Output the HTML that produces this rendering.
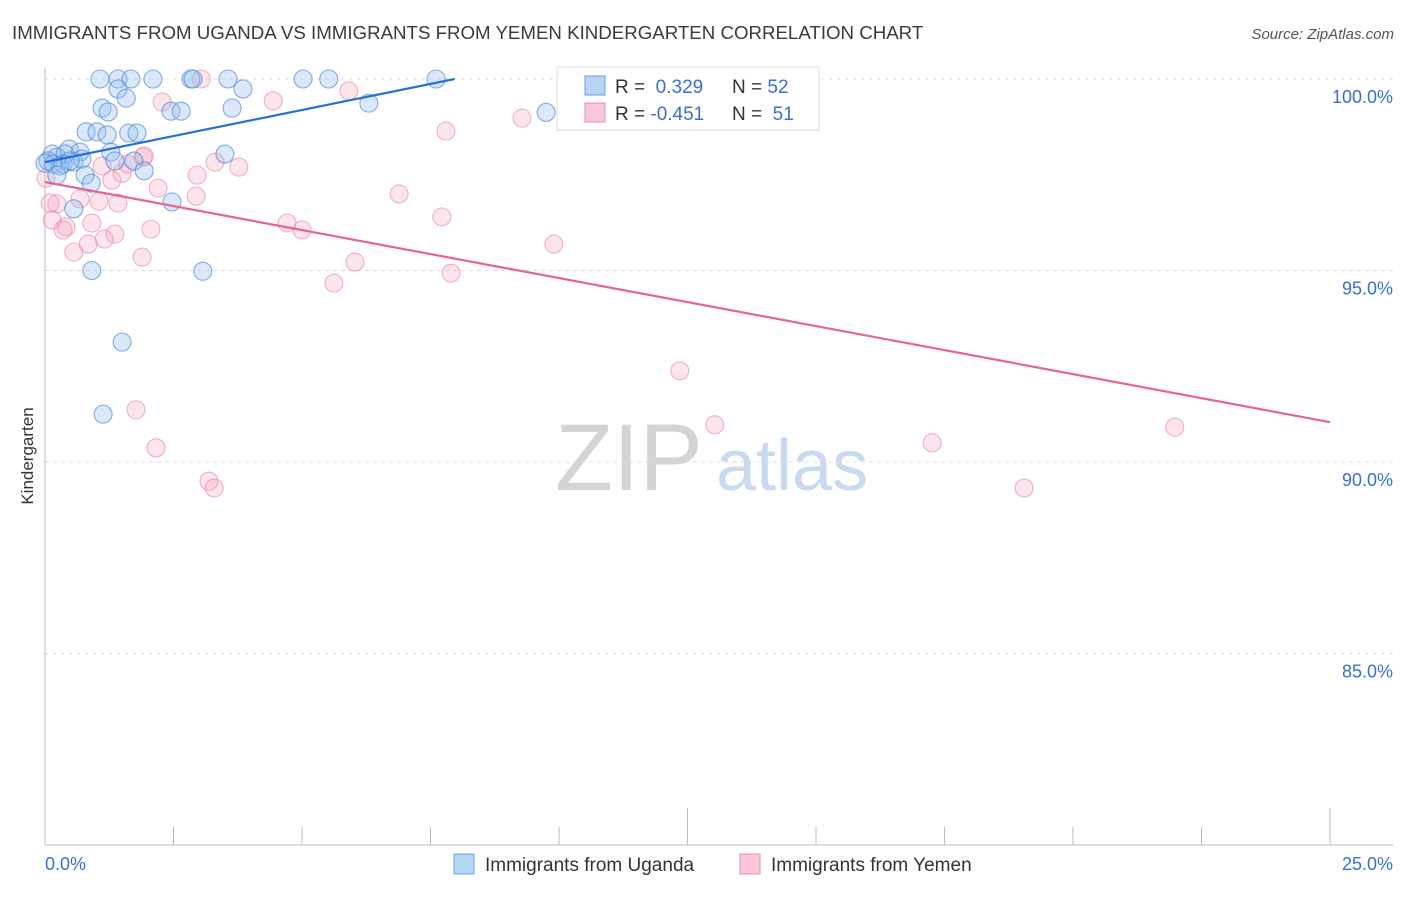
<!DOCTYPE html>
<html><head><meta charset="utf-8"><style>
body{margin:0;background:#fff;font-family:"Liberation Sans",sans-serif;}
svg text{font-family:"Liberation Sans",sans-serif;}
</style></head><body>
<svg id="chart" width="1406" height="892" viewBox="0 0 1406 892" xmlns="http://www.w3.org/2000/svg">
<text x="12" y="39" font-size="18.7" fill="#3a3a3a">IMMIGRANTS FROM UGANDA VS IMMIGRANTS FROM YEMEN KINDERGARTEN CORRELATION CHART</text>
<text x="1394" y="39" font-size="15" fill="#555" font-style="italic" text-anchor="end">Source: ZipAtlas.com</text>
<g>
<text x="555" y="490" font-size="95" fill="#d4d4d4" font-family="Liberation Serif,serif">ZIP</text>
<text x="716" y="490" font-size="72" fill="#c9daf0">atlas</text>
</g>
<g id="grid"></g>
<g id="axes"></g>
<g id="points"></g>
<g id="trends"></g>
<text transform="translate(33,456) rotate(-90)" font-size="17" fill="#333" text-anchor="middle">Kindergarten</text>
<g>
<rect x="557" y="67" width="262" height="63" fill="#fff" stroke="#ddd"/>
<rect x="585" y="76" width="20" height="19" fill="#b8d4f5" stroke="#6a9ee0"/>
<rect x="585" y="103" width="20" height="19" fill="#f9c8d6" stroke="#e890aa"/>
<text x="615" y="93" font-size="19" fill="#333">R = <tspan fill="#3a6fd1">&#160;0.329</tspan></text>
<text x="732" y="93" font-size="19" fill="#333">N = <tspan fill="#3a6fd1">52</tspan></text>
<text x="615" y="120" font-size="19" fill="#333">R = <tspan fill="#3a6fd1">-0.451</tspan></text>
<text x="732" y="120" font-size="19" fill="#333">N = <tspan fill="#3a6fd1">&#160;51</tspan></text>
</g>
<g>
<rect x="454" y="854" width="20" height="20" fill="#b8d4f5" stroke="#6a9ee0"/>
<text x="485" y="871" font-size="19" fill="#333">Immigrants from Uganda</text>
<rect x="740" y="854" width="20" height="20" fill="#f9c8d6" stroke="#e890aa"/>
<text x="771" y="871" font-size="19" fill="#333">Immigrants from Yemen</text>
</g>
</svg>
<script>
const xTickLabels = ["0.0%", "25.0%"];
const yTicks = [100, 95, 90, 85];
const yTickLabels = ["100.0%", "95.0%", "90.0%", "85.0%"];
const ugandaX = [1.07,1.42,1.67,2.1,2.84,2.88,3.56,5.02,5.52,7.61,1.42,1.58,3.85,1.11,1.23,2.45,2.65,3.64,6.3,9.75,0.8,1.01,1.21,1.63,1.79,0.47,0.68,1.28,0.14,0.23,0.39,0.35,0.06,0.16,0.29,0.56,0.72,1.36,1.73,3.5,1.93,0.78,0.23,0.9,2.47,0.56,0.91,3.07,1.5,1.13,0.0,0.49];
const ugandaY = [100,100,100,100,100,100,100,100,100,100,99.74,99.5,99.74,99.24,99.14,99.16,99.16,99.24,99.37,99.13,98.62,98.62,98.54,98.59,98.59,98.17,98.09,98.09,98.04,97.96,98.04,97.78,97.86,97.78,97.73,97.83,97.91,97.86,97.86,98.04,97.6,97.49,97.49,97.28,96.79,96.61,95.0,94.98,93.13,91.25,97.8,97.86];
const yemenX = [3.04,2.28,4.44,5.91,9.28,7.8,12.47,1.91,3.31,3.77,2.96,1.3,1.5,2.2,2.94,1.93,1.05,1.42,0.68,0.23,0.14,0.41,0.91,1.36,2.06,1.15,0.84,0.56,1.89,4.71,5.0,6.89,7.72,9.9,6.03,5.62,7.9,12.35,13.03,1.77,2.16,3.19,3.29,17.26,19.05,21.98,0.02,0.1,0.35,1.11,1.61];
const yemenY = [100,99.4,99.43,99.69,98.98,98.64,99.09,97.96,97.83,97.7,97.49,97.36,97.54,97.15,96.94,97.99,96.81,96.76,96.87,96.74,96.32,96.14,96.24,95.95,96.08,95.82,95.69,95.48,95.35,96.24,96.06,97.0,96.4,95.69,95.22,94.67,94.93,92.38,90.97,91.36,90.37,89.5,89.32,90.5,89.32,90.91,97.41,96.76,96.06,97.73,97.78];
const ugandaTrend = [0, 97.83, 7.97, 100];
const yemenTrend = [0, 97.31, 25, 91.04];

const X0=45, X1=1330, Y0=79, Y1=845;
const xs = v => X0 + v/25*(X1-X0);
const ys = v => Y0 + (100-v)/20*(Y1-Y0);
const NS="http://www.w3.org/2000/svg";
function mk(tag, attrs, parent){const e=document.createElementNS(NS,tag);for(const k in attrs)e.setAttribute(k,attrs[k]);document.getElementById(parent).appendChild(e);return e;}

yTicks.forEach((t,i)=>{
  const l=mk('line',{x1:X0,x2:1393,y1:ys(t),y2:ys(t),stroke:'#ddd','stroke-dasharray':'4,4'},'grid');
  
  
  const tx=mk('text',{x:1393,y:ys(t)+24,'font-size':18,fill:'#3a6fd1','text-anchor':'end'},'grid');
  tx.textContent=yTickLabels[i];
  
  
});
const ax=mk('line',{x1:X0,x2:X1+63,y1:Y1,y2:Y1,stroke:'#bbb'},'axes');


const ay=mk('line',{x1:X0,x2:X0,y1:68,y2:Y1,stroke:'#bbb'},'axes');


for(let i=1;i<=10;i++){
  const v=i*2.5;
  const t=mk('line',{x1:xs(v),x2:xs(v),y1:Y1,y2:Y1-(i==5||i==10?37:18),stroke:'#bbb'},'axes');
  
  
}
const xl0=mk('text',{x:45,y:870,'font-size':18,fill:'#3a6fd1'},'axes');
xl0.textContent=xTickLabels[0];


const xl1=mk('text',{x:1393,y:870,'font-size':18,fill:'#3a6fd1','text-anchor':'end'},'axes');
xl1.textContent=xTickLabels[1];



yemenX.forEach((v,i)=>{
  const c=mk('circle',{cx:xs(v),cy:ys(yemenY[i]),r:9,fill:'rgba(244,165,190,0.3)',stroke:'rgba(232,130,162,0.6)','stroke-width':1.1},'points');
  
  
});
ugandaX.forEach((v,i)=>{
  const c=mk('circle',{cx:xs(v),cy:ys(ugandaY[i]),r:9,fill:'rgba(150,190,240,0.35)',stroke:'rgba(70,130,215,0.65)','stroke-width':1.1},'points');
  
  
});
const tu=mk('line',{x1:xs(ugandaTrend[0]),y1:ys(ugandaTrend[1]),x2:xs(ugandaTrend[2]),y2:ys(ugandaTrend[3]),stroke:'#2a6fd6','stroke-width':2.2},'trends');


const ty=mk('line',{x1:xs(yemenTrend[0]),y1:ys(yemenTrend[1]),x2:xs(yemenTrend[2]),y2:ys(yemenTrend[3]),stroke:'#e5658f','stroke-width':2.2},'trends');


</script>
</body></html>
